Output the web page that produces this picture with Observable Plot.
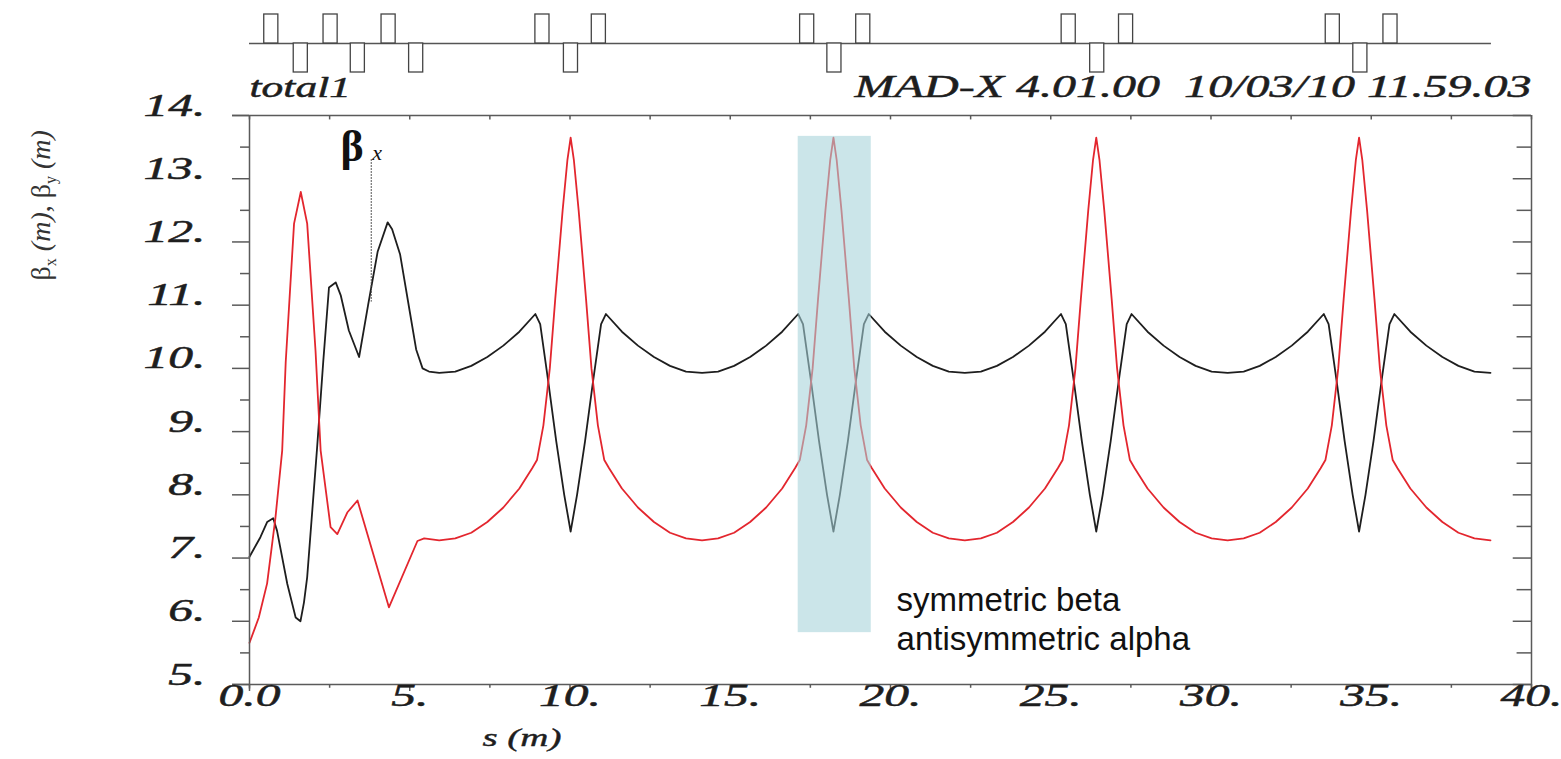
<!DOCTYPE html>
<html><head><meta charset="utf-8">
<script src="https://cdn.jsdelivr.net/npm/d3@7"></script>
<script src="https://cdn.jsdelivr.net/npm/@observablehq/plot@0.6"></script>
<style>
body{margin:0;background:#fff;}
#chart svg{display:block;}
</style></head><body><div id="chart"></div>
<script>
// ---- data ----
const sX = [0, 0.34, 0.55, 0.74, 0.86, 1.18, 1.44, 1.59, 1.7, 1.8, 2.11, 2.3, 2.48, 2.69, 2.85, 3.1, 3.42, 3.7, 4.0, 4.31, 4.45, 4.7, 5.0, 5.2, 5.4, 5.6,
  5.92, 6.42, 6.92, 7.42, 7.92, 8.42, 8.92, 9.07, 9.32, 9.57, 9.82, 10.02,
  10.22, 10.47, 10.72, 10.97, 11.12, 11.62, 12.12, 12.62, 13.12, 13.62, 14.12, 14.62, 15.12, 15.62, 16.12, 16.62, 17.12, 17.27, 17.52, 17.77, 18.02, 18.22,
  18.42, 18.67, 18.92, 19.17, 19.32, 19.82, 20.32, 20.82, 21.32, 21.82, 22.32, 22.82, 23.32, 23.82, 24.32, 24.82, 25.32, 25.47, 25.72, 25.97, 26.22, 26.42,
  26.62, 26.87, 27.12, 27.37, 27.52, 28.02, 28.52, 29.02, 29.52, 30.02, 30.52, 31.02, 31.52, 32.02, 32.52, 33.02, 33.52, 33.67, 33.92, 34.17, 34.42, 34.62,
  34.82, 35.07, 35.32, 35.57, 35.72, 36.22, 36.72, 37.22, 37.72, 38.22, 38.72];
const betaX = [7.02, 7.33, 7.57, 7.63, 7.43, 6.59, 6.06, 6.0, 6.3, 6.7, 8.75, 10.1, 11.28, 11.36, 11.15, 10.6, 10.18, 11.0, 11.85, 12.31, 12.2, 11.8, 10.9, 10.3, 10.0, 9.95,
  9.93, 9.95, 10.04, 10.18, 10.36, 10.58, 10.86, 10.70, 9.80, 8.85, 8.00, 7.42,
  8.00, 8.85, 9.80, 10.70, 10.86, 10.58, 10.36, 10.18, 10.04, 9.95, 9.93, 9.95, 10.04, 10.18, 10.36, 10.58, 10.86, 10.70, 9.80, 8.85, 8.00, 7.42,
  8.00, 8.85, 9.80, 10.70, 10.86, 10.58, 10.36, 10.18, 10.04, 9.95, 9.93, 9.95, 10.04, 10.18, 10.36, 10.58, 10.86, 10.70, 9.80, 8.85, 8.00, 7.42,
  8.00, 8.85, 9.80, 10.70, 10.86, 10.58, 10.36, 10.18, 10.04, 9.95, 9.93, 9.95, 10.04, 10.18, 10.36, 10.58, 10.86, 10.70, 9.80, 8.85, 8.00, 7.42,
  8.00, 8.85, 9.80, 10.70, 10.86, 10.58, 10.36, 10.18, 10.04, 9.95, 9.93];

const sY = [0, 0.29, 0.55, 0.81, 1.02, 1.13, 1.39, 1.6, 1.8, 2.06, 2.22, 2.53, 2.74, 3.05, 3.37, 4.35, 5.24, 5.45,
  5.92, 6.42, 6.92, 7.42, 7.92, 8.42, 8.82, 8.97, 9.17, 9.37, 9.54, 9.77, 9.92, 10.02,
  10.12, 10.27, 10.50, 10.67, 10.87, 11.07, 11.22, 11.62, 12.12, 12.62, 13.12, 13.62, 14.12, 14.62, 15.12, 15.62, 16.12, 16.62, 17.02, 17.17, 17.37, 17.57, 17.74, 17.97, 18.12, 18.22,
  18.32, 18.47, 18.70, 18.87, 19.07, 19.27, 19.42, 19.82, 20.32, 20.82, 21.32, 21.82, 22.32, 22.82, 23.32, 23.82, 24.32, 24.82, 25.22, 25.37, 25.57, 25.77, 25.94, 26.17, 26.32, 26.42,
  26.52, 26.67, 26.90, 27.07, 27.27, 27.47, 27.62, 28.02, 28.52, 29.02, 29.52, 30.02, 30.52, 31.02, 31.52, 32.02, 32.52, 33.02, 33.42, 33.57, 33.77, 33.97, 34.14, 34.37, 34.52, 34.62,
  34.72, 34.87, 35.10, 35.27, 35.47, 35.67, 35.82, 36.22, 36.72, 37.22, 37.72, 38.22, 38.72];
const betaY = [5.66, 6.06, 6.6, 7.64, 8.7, 10.1, 12.29, 12.79, 12.29, 10.28, 8.7, 7.49, 7.38, 7.72, 7.91, 6.22, 7.27, 7.31,
  7.28, 7.31, 7.40, 7.57, 7.80, 8.10, 8.42, 8.55, 9.10, 10.0, 11.1, 12.5, 13.3, 13.65,
  13.3, 12.5, 11.1, 10.0, 9.10, 8.55, 8.42, 8.10, 7.80, 7.57, 7.40, 7.31, 7.28, 7.31, 7.40, 7.57, 7.80, 8.10, 8.42, 8.55, 9.10, 10.0, 11.1, 12.5, 13.3, 13.65,
  13.3, 12.5, 11.1, 10.0, 9.10, 8.55, 8.42, 8.10, 7.80, 7.57, 7.40, 7.31, 7.28, 7.31, 7.40, 7.57, 7.80, 8.10, 8.42, 8.55, 9.10, 10.0, 11.1, 12.5, 13.3, 13.65,
  13.3, 12.5, 11.1, 10.0, 9.10, 8.55, 8.42, 8.10, 7.80, 7.57, 7.40, 7.31, 7.28, 7.31, 7.40, 7.57, 7.80, 8.10, 8.42, 8.55, 9.10, 10.0, 11.1, 12.5, 13.3, 13.65,
  13.3, 12.5, 11.1, 10.0, 9.10, 8.55, 8.42, 8.10, 7.80, 7.57, 7.40, 7.31, 7.28];

// lattice: quadrupole centres (m) and polarity (+1 focusing, -1 defocusing)
const quadS = [0.68, 1.6, 2.53, 3.38, 4.34, 5.2, 9.14, 10.03, 10.9, 17.4, 18.25, 19.15, 25.56, 26.45, 27.35, 33.8, 34.66, 35.6];
const quadK = [1, -1, 1, -1, 1, -1, 1, -1, 1, 1, -1, 1, 1, -1, 1, 1, -1, 1];
const latticeStart = 0, latticeEnd = 38.75;

const yTicks = [5, 6, 7, 8, 9, 10, 11, 12, 13, 14];
const yTickLabels = ["5.", "6.", "7.", "8.", "9.", "10.", "11.", "12.", "13.", "14."];
const yMinor = [5.5, 6.5, 7.5, 8.5, 9.5, 10.5, 11.5, 12.5, 13.5];
const xTicks = [0, 5, 10, 15, 20, 25, 30, 35, 40];
const xTickLabels = ["0.0", "5.", "10.", "15.", "20.", "25.", "30.", "35.", "40."];
const xMinor = [2.5, 7.5, 12.5, 17.5, 22.5, 27.5, 32.5, 37.5];

const shadeS1 = [17.12], shadeS2 = [19.4], shadeB1 = [5.82], shadeB2 = [13.67];
const noteLines = ["symmetric beta", "antisymmetric alpha"];
const noteS = 20.19;
const noteB = [6.33, 5.72];
const titleLeft = "total1";
const titleRight = "MAD-X 4.01.00\u00a0 10/03/10 11.59.03";
const xLabel = "s (m)";
const yLabel = "βx (m), βy (m)";
const markerS = [3.8], markerTop = 13.3, markerBottom = 11.05;

// ---- tables ----
const black = sX.map((s, i) => ({s, beta: betaX[i]}));
const red = sY.map((s, i) => ({s, beta: betaY[i]}));
const QW = 0.22;
const quads = quadS.map((s, i) => ({x1: s - QW, x2: s + QW, k: quadK[i]}));
const shade = shadeS1.map((s, i) => ({x1: s, x2: shadeS2[i], y1: shadeB1[i], y2: shadeB2[i]}));

const W = 1561, ML = 249, MR = 30;
const frameColor = "#5a5a5a";
const serif = "'Liberation Serif', 'Times New Roman', serif";
const txt = "#1e1e1e";

const lattice = Plot.plot({
  width: W, height: 80, marginLeft: ML, marginRight: MR, marginTop: 14, marginBottom: 8,
  x: {domain: [0, 40], axis: null},
  y: {domain: [-1, 1], axis: null},
  style: {background: "white", overflow: "visible"},
  marks: [
    Plot.ruleY([0], {x1: latticeStart, x2: latticeEnd, stroke: "#555", strokeWidth: 1.4}),
    Plot.rect(quads, {x1: "x1", x2: "x2", y1: 0, y2: "k", fill: "white", stroke: "#444", strokeWidth: 1.3})
  ]
});

const main = Plot.plot({
  width: W, height: 679, marginLeft: ML, marginRight: MR, marginTop: 35, marginBottom: 75,
  x: {domain: [0, 40], axis: null},
  y: {domain: [5, 14], axis: null},
  style: {background: "white", fontFamily: serif, overflow: "visible"},
  marks: [
    Plot.line(black, {x: "s", y: "beta", stroke: "#1e1e1e", strokeWidth: 1.8}),
    Plot.line(red, {x: "s", y: "beta", stroke: "#e3262e", strokeWidth: 1.8}),
    Plot.rect(shade, {x1: "x1", x2: "x2", y1: "y1", y2: "y2", fill: "#a6d2d9", fillOpacity: 0.58}),
    // frame & ticks
    Plot.ruleY([14, 5], {x1: -0.53, x2: 40, stroke: frameColor, strokeWidth: 1.5}),
    Plot.ruleX([0, 40], {y1: 14, y2: 4.93, stroke: frameColor, strokeWidth: 1.5}),
    Plot.ruleY(yTicks, {x1: -0.53, x2: 0, stroke: frameColor, strokeWidth: 1.5}),
    Plot.ruleY(yMinor, {x1: -0.28, x2: 0, stroke: frameColor, strokeWidth: 1.5}),
    Plot.ruleY(yTicks, {x1: 39.43, x2: 40, stroke: frameColor, strokeWidth: 1.5}),
    Plot.ruleY(yMinor, {x1: 39.55, x2: 40, stroke: frameColor, strokeWidth: 1.5}),
    Plot.ruleX(xTicks, {y1: 5, y2: 4.89, stroke: frameColor, strokeWidth: 1.5}),
    Plot.ruleX(xMinor, {y1: 5, y2: 4.94, stroke: frameColor, strokeWidth: 1.5}),
    Plot.ruleX(xTicks.concat(xMinor), {y1: 14, y2: 13.93, stroke: frameColor, strokeWidth: 1.5}),
    // beta_x marker
    Plot.ruleX(markerS, {y1: markerTop, y2: markerBottom, stroke: "#444", strokeWidth: 1.2, strokeDasharray: "1.5,1.5"}),
    Plot.text(["β"], {x: 3.2, y: 13.5, text: d => d, fontSize: 44, fontWeight: "bold", fill: "#111"}),
    Plot.text(["x"], {x: 3.98, y: 13.4, text: d => d, fontSize: 22, fontStyle: "italic", fill: "#111"}),
    // tick labels
    Plot.text(yTicks, {y: d => d, text: (d, i) => yTickLabels[i], frameAnchor: "left", dx: -44, textAnchor: "end", fontSize: 32, fontStyle: "italic", fill: txt, stroke: txt, strokeWidth: 0.5}),
    Plot.text(xTicks, {x: d => d, text: (d, i) => xTickLabels[i], frameAnchor: "bottom", dy: 21, fontSize: 32, fontStyle: "italic", fill: txt, stroke: txt, strokeWidth: 0.5}),
    // titles
    Plot.text([titleLeft], {text: d => d, frameAnchor: "top-left", dy: -19, textAnchor: "start", fontSize: 30, fontStyle: "italic", fill: txt, stroke: txt, strokeWidth: 0.5}),
    Plot.text([titleRight], {text: d => d, frameAnchor: "top-right", dy: -19, textAnchor: "end", fontSize: 31, fontStyle: "italic", fill: txt, stroke: txt, strokeWidth: 0.5}),
    Plot.text([xLabel], {x: 8.5, text: d => d, frameAnchor: "bottom", dy: 61, fontSize: 26, fontStyle: "italic", fill: txt, stroke: txt, strokeWidth: 0.4}),
    Plot.text([yLabel], {y: 12.58, text: d => d, frameAnchor: "left", dx: -208, textAnchor: "middle", rotate: -90, fontSize: 28, fill: "#333"}),
    // annotation
    Plot.text(noteLines, {x: noteS, y: (d, i) => noteB[i], text: d => d, textAnchor: "start", fontFamily: "'Liberation Sans', Arial, sans-serif", fontSize: 33, fill: "#111"})
  ]
});

// horizontally stretched italic serif text, as in the original print
const kByFs = {32: 1.55, 31: 1.55, 30: 1.45, 26: 1.5};
main.querySelectorAll('g[font-style="italic"]').forEach(g => {
  const k = kByFs[parseFloat(g.getAttribute("font-size"))];
  if (!k) return;
  g.querySelectorAll("text").forEach(t => {
    const x = +t.getAttribute("x") || 0, y = +t.getAttribute("y") || 0;
    t.removeAttribute("x"); t.removeAttribute("y");
    const tr = t.getAttribute("transform") || "";
    t.setAttribute("transform", `${tr} translate(${x},${y}) scale(${k},1)`);
  });
});

// y label with subscripts and italic units
const NS = "http://www.w3.org/2000/svg";
main.querySelectorAll("text").forEach(t => {
  if (t.textContent !== yLabel) return;
  t.textContent = "";
  const parts = [
    ["β", {}], ["x", {"font-size": 16, dy: 6}], [" ", {dy: -6}], ["(m)", {"font-style": "italic"}],
    [", β", {}], ["y", {"font-size": 16, dy: 6}], [" ", {dy: -6}], ["(m)", {"font-style": "italic"}]
  ];
  for (const [s, attrs] of parts) {
    const ts = document.createElementNS(NS, "tspan");
    for (const a in attrs) ts.setAttribute(a, attrs[a]);
    ts.textContent = s;
    t.appendChild(ts);
  }
});

const chart = document.getElementById("chart");
chart.appendChild(lattice);
chart.appendChild(main);
</script>
</body></html>
